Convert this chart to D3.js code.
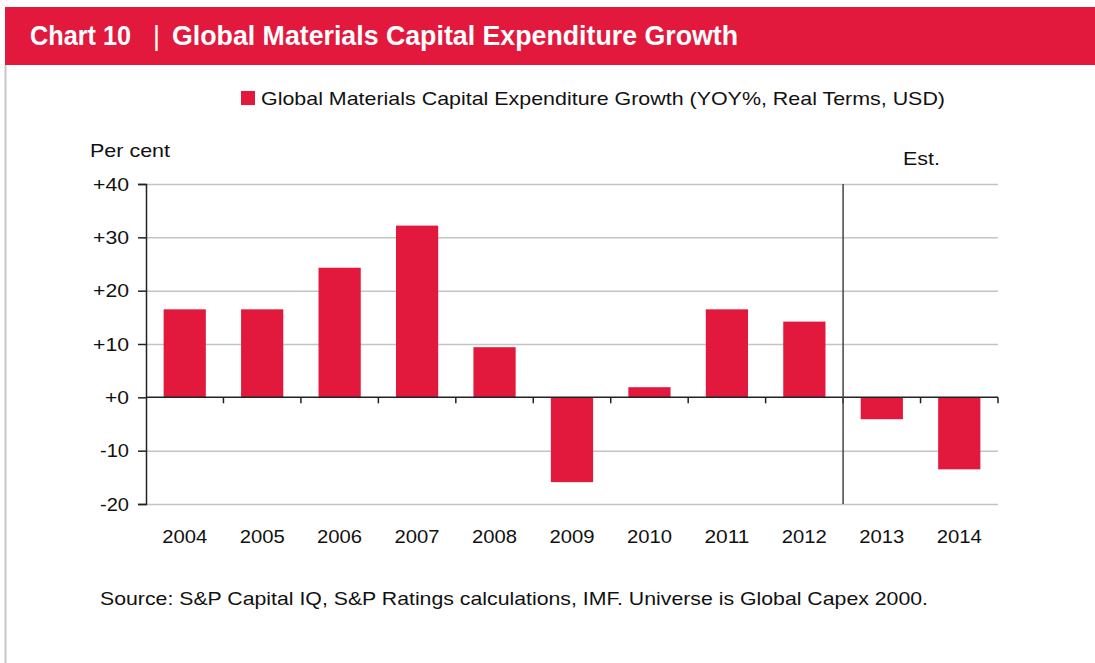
<!DOCTYPE html>
<html>
<head>
<meta charset="utf-8">
<script src="https://cdn.jsdelivr.net/npm/d3@7"></script>
<style>
  body { margin: 0; background: #fff; }
  svg { display: block; font-family: "Liberation Sans", Arial, sans-serif; }
</style>
</head>
<body>
<div id="chart"></div>
<script>
const years = ["2004", "2005", "2006", "2007", "2008", "2009", "2010", "2011", "2012", "2013", "2014"];
const growth = [16.5, 16.5, 24.3, 32.2, 9.4, -15.9, 1.9, 16.5, 14.2, -4.1, -13.5];
const yTicks = [-20, -10, 0, 10, 20, 30, 40];
const estimateFrom = "2013";

const W = 1095, H = 663;
const red = "#e2183d";
const ink = "#111";

const svg = d3.select("#chart").append("svg")
  .attr("width", W).attr("height", H);

// header band
svg.append("rect").attr("x", 5).attr("y", 7).attr("width", W - 5).attr("height", 58).attr("fill", red);
[["Chart 10", 30, 101], ["|", 153, null], ["Global Materials Capital Expenditure Growth", 172, 566]]
  .forEach(([t, tx, len]) => {
    const el = svg.append("text")
      .attr("x", tx).attr("y", 45)
      .attr("fill", "#fff")
      .style("font-weight", t === "|" ? "normal" : "bold")
      .style("font-size", "27px")
      .text(t);
    if (len) el.attr("textLength", len).attr("lengthAdjust", "spacingAndGlyphs");
  });

// left border
svg.append("line").attr("x1", 5.5).attr("x2", 5.5).attr("y1", 65).attr("y2", H)
  .attr("stroke", "#c8c8c8").attr("stroke-width", 2);

const x = d3.scaleBand().domain(years).range([146, 998]).paddingInner(0.455).paddingOuter(0.2275);
const y = d3.scaleLinear().domain([-20, 40]).range([504, 184]);

// gridlines
svg.append("g").selectAll("line").data(yTicks.filter(d => d !== 0)).join("line")
  .attr("x1", 146).attr("x2", 998)
  .attr("y1", d => y(d) + 0.5).attr("y2", d => y(d) + 0.5)
  .attr("stroke", "#c4c4c4").attr("stroke-width", 1.5);

// bars
svg.append("g").selectAll("rect").data(years).join("rect")
  .attr("x", d => x(d))
  .attr("width", x.bandwidth())
  .attr("y", (d, i) => y(Math.max(0, growth[i])))
  .attr("height", (d, i) => Math.abs(y(growth[i]) - y(0)))
  .attr("fill", red);

// y axis
const yAxis = svg.append("g").attr("transform", "translate(146,0)")
  .call(d3.axisLeft(y).tickValues(yTicks).tickSize(8).tickPadding(9)
    .tickFormat(d => (d >= 0 ? "+" : "") + d));
yAxis.select(".domain").attr("stroke", "#222").attr("stroke-width", 1.5);
yAxis.selectAll(".tick line").attr("stroke", "#222").attr("stroke-width", 1.5);
yAxis.selectAll("text")
  .attr("textLength", d => d === 0 ? 24 : d > 0 ? 36 : 29).attr("lengthAdjust", "spacingAndGlyphs")
  .style("font-size", "19px").attr("fill", ink)
  .style("font-family", "'Liberation Sans', Arial, sans-serif");

// zero line with category boundary ticks
const step = x.step();
const bounds = d3.range(years.length + 1).map(i => 146 + i * step);
const zero = svg.append("g");
zero.append("line").attr("x1", 146).attr("x2", 998).attr("y1", y(0)).attr("y2", y(0))
  .attr("stroke", "#222").attr("stroke-width", 1.5);
zero.selectAll(".bt").data(bounds.slice(1)).join("line")
  .attr("x1", d => d).attr("x2", d => d)
  .attr("y1", y(0)).attr("y2", y(0) + 6)
  .attr("stroke", "#222").attr("stroke-width", 1.5);

// x labels
svg.append("g").selectAll("text").data(years).join("text")
  .attr("x", d => x(d) + x.bandwidth() / 2)
  .attr("y", 543)
  .attr("text-anchor", "middle")
  .attr("textLength", 45).attr("lengthAdjust", "spacingAndGlyphs")
  .style("font-size", "19px").attr("fill", ink)
  .text(d => d);

// estimate divider
const ex = x(estimateFrom) - x.step() * x.paddingInner() / 2;
svg.append("line").attr("x1", ex).attr("x2", ex).attr("y1", y(40)).attr("y2", y(-20))
  .attr("stroke", "#444").attr("stroke-width", 1.5);
svg.append("text").attr("x", 903).attr("y", 165)
  .attr("textLength", 37).attr("lengthAdjust", "spacingAndGlyphs")
  .style("font-size", "19px").attr("fill", ink).text("Est.");

// axis title
svg.append("text").attr("x", 90).attr("y", 157)
  .attr("textLength", 80).attr("lengthAdjust", "spacingAndGlyphs")
  .style("font-size", "19px").attr("fill", ink).text("Per cent");

// legend
svg.append("rect").attr("x", 241).attr("y", 91).attr("width", 14).attr("height", 14).attr("fill", red);
svg.append("text").attr("x", 261).attr("y", 105)
  .attr("textLength", 684).attr("lengthAdjust", "spacingAndGlyphs")
  .style("font-size", "19px").attr("fill", ink)
  .text("Global Materials Capital Expenditure Growth (YOY%, Real Terms, USD)");

// source
svg.append("text").attr("x", 100).attr("y", 605)
  .attr("textLength", 828).attr("lengthAdjust", "spacingAndGlyphs")
  .style("font-size", "19px").attr("fill", ink)
  .text("Source: S&P Capital IQ, S&P Ratings calculations, IMF. Universe is Global Capex 2000.");
</script>
</body>
</html>
